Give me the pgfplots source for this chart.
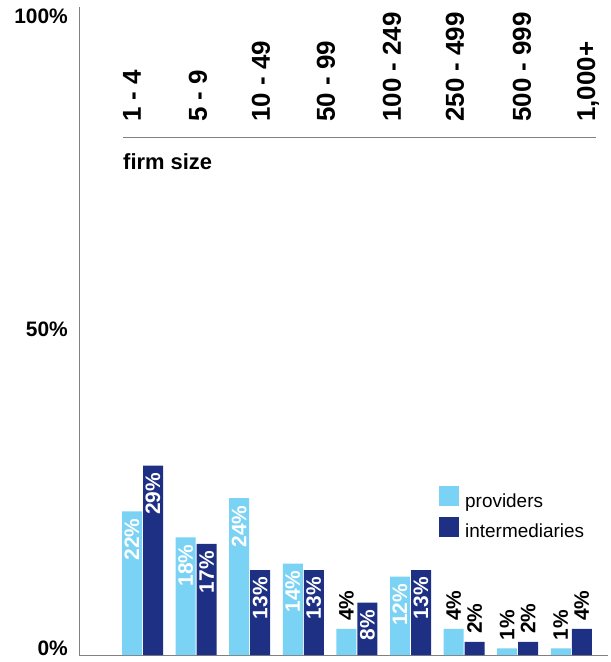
\documentclass[border=0pt]{standalone}
\usepackage{pgfplots}
\pgfplotsset{compat=1.18}
\usepackage{pgfplotstable}
\usepackage{fontspec}
\setmainfont{Liberation Sans}
\definecolor{prov}{RGB}{122,211,245}
\definecolor{inter}{RGB}{30,48,132}
\definecolor{axgray}{RGB}{128,128,128}

\pgfplotstableread{
x y
0 22
1 18
2 24
3 14
4 4
5 12
6 4
7 1
8 1
}\providers
\pgfplotstableread{
x y
0 29
1 17
2 13
3 13
4 8
5 13
6 2
7 2
8 4
}\intermediaries
% label subsets
\pgfplotstableread{
x y
0 22
1 18
2 24
3 14
5 12
}\provIn
\pgfplotstableread{
x y
4 4
6 4
7 1
8 1
}\provOut
\pgfplotstableread{
x y
0 29
1 17
2 13
3 13
4 8
5 13
}\interIn
\pgfplotstableread{
x y
6 2
7 2
8 4
}\interOut

\newcommand{\barfont}{\bfseries\fontsize{21}{21}\selectfont}
\newcommand{\barlabel}{\pgfmathprintnumber[assume math mode=true]{\pgfplotspointmeta}\%}
\begin{document}
\begin{tikzpicture}
\begin{axis}[
  at={(0,0)}, anchor=south west,
  width=529bp, height=648bp, scale only axis,
  xmin=-1.185, xmax=8.685, ymin=0, ymax=99.2,
  axis x line=bottom, axis y line=left,
  axis line style={-, draw=axgray, line width=0.8bp},
  xtick=\empty,
  ytick={1.1,49.8,97.7},
  yticklabels={0\%,50\%,100\%},
  major tick length=0pt,
  yticklabel style={inner sep=0pt, xshift=-11bp, font=\bfseries\fontsize{21}{21}\selectfont},
  clip=false,
  legend style={draw=none, fill=none, at={(0.6805,0.2608)}, anchor=north west,
    inner sep=0pt, column sep=6bp, row sep=8bp,
    font=\fontsize{19}{19}\selectfont,
    nodes={inner sep=0pt}},
  legend cell align=left,
]
\addplot[ybar, bar width=0.373, bar shift=-0.196, fill=prov, draw=none,
  legend image code/.code={\fill[prov] (0bp,-5bp) rectangle (20bp,15bp);}]
  table[x=x, y=y] {\providers};
\addlegendentry{providers}
\addplot[ybar, bar width=0.373, bar shift=0.196, fill=inter, draw=none,
  legend image code/.code={\fill[inter] (0bp,-5bp) rectangle (20bp,15bp);}]
  table[x=x, y=y] {\intermediaries};
\addlegendentry{intermediaries}

% value labels inside bars (white)
\addplot[draw=none, mark=none, forget plot, point meta=y,
  nodes near coords={\barlabel},
  every node near coord/.append style={yshift=-7bp, rotate=90, anchor=east, inner sep=0pt, text=white, font=\barfont}]
  table[x expr=\thisrow{x}-0.196, y=y] {\provIn};
\addplot[draw=none, mark=none, forget plot, point meta=y,
  nodes near coords={\barlabel},
  every node near coord/.append style={yshift=-7bp, rotate=90, anchor=east, inner sep=0pt, text=white, font=\barfont}]
  table[x expr=\thisrow{x}+0.196, y=y] {\interIn};
% value labels above bars (black)
\addplot[draw=none, mark=none, forget plot, point meta=y,
  nodes near coords={\barlabel},
  every node near coord/.append style={yshift=8bp, rotate=90, anchor=west, inner sep=0pt, text=black, font=\barfont}]
  table[x expr=\thisrow{x}-0.196, y=y] {\provOut};
\addplot[draw=none, mark=none, forget plot, point meta=y,
  nodes near coords={\barlabel},
  every node near coord/.append style={yshift=8bp, rotate=90, anchor=west, inner sep=0pt, text=black, font=\barfont}]
  table[x expr=\thisrow{x}+0.196, y=y] {\interOut};

% header rule
\addplot[axgray, line width=0.8bp, forget plot] coordinates {(-0.364,79.3) (8.46,79.3)};

% category header labels
\begin{scope}[every node/.style={rotate=90, anchor=west, inner sep=0pt, font=\bfseries\fontsize{26}{26}\selectfont}]
\node at (axis cs:-0.196,81.6) {1 - 4};
\node at (axis cs:1.035,81.6) {5 - 9};
\node at (axis cs:2.211,81.6) {10 - 49};
\node at (axis cs:3.424,81.6) {50 - 99};
\node at (axis cs:4.655,81.6) {100 - 249};
\node at (axis cs:5.830,81.6) {250 - 499};
\node at (axis cs:7.080,81.6) {500 - 999};
\node at (axis cs:8.312,81.6) {1,000+};
\end{scope}
\node[anchor=west, inner sep=0pt, font=\bfseries\fontsize{22}{22}\selectfont] at (axis cs:-0.364,75.5) {firm size};
\end{axis}
\pgfresetboundingbox
\path (-79bp,-7bp) rectangle (532bp,655bp);
\end{tikzpicture}
\end{document}
